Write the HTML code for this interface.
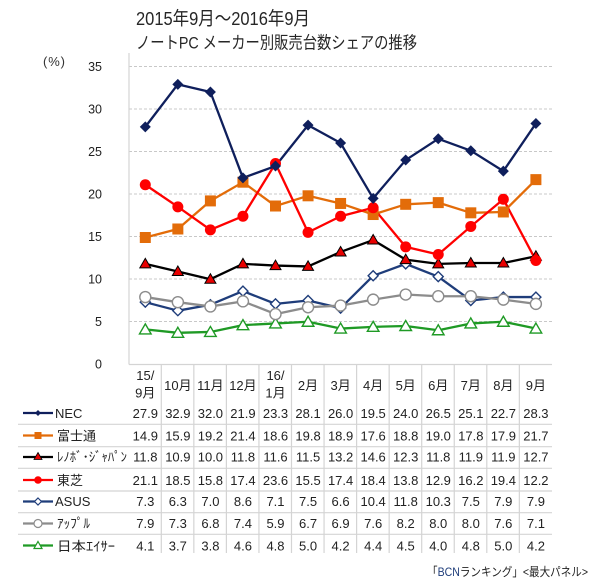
<!DOCTYPE html>
<html><head><meta charset="utf-8"><style>
html,body{margin:0;padding:0;background:#fff;}
svg{display:block;}
text{font-family:"Liberation Sans","Noto Sans CJK JP",sans-serif;}
</style></head><body>
<svg width="600" height="582" viewBox="0 0 600 582" xmlns="http://www.w3.org/2000/svg">
<defs>
<polygon id="dia" points="0,-5.5 5.5,0 0,5.5 -5.5,0" fill="#0f1f5c"/>
<rect id="sq" x="-5.5" y="-5.5" width="11" height="11" fill="#e36c09"/>
<polygon id="tri" points="0,-5.5 5.5,4 -5.5,4" fill="#e80000" stroke="#000" stroke-width="1"/>
<circle id="cr" r="5.5" fill="#ff0000"/>
<polygon id="diaw" points="0,-5 5,0 0,5 -5,0" fill="#fff" stroke="#1f3d7a" stroke-width="1.4"/>
<circle id="cw" r="5.5" fill="#fff" stroke="#8c8c8c" stroke-width="1.4"/>
<polygon id="triw" points="0,-5.5 5.8,4.5 -5.8,4.5" fill="#fff" stroke="#1f9a25" stroke-width="1.4"/>
</defs>

<text x="136" y="25" font-size="18.5" fill="#262626" textLength="174" lengthAdjust="spacingAndGlyphs">2015年9月～2016年9月</text>
<text x="136" y="48.5" font-size="17" fill="#262626" textLength="281" lengthAdjust="spacingAndGlyphs">ノートPC メーカー別販売台数シェアの推移</text>
<text x="43" y="66" font-size="13" fill="#333" textLength="22" lengthAdjust="spacing">(%)</text>

<g stroke="#c8c8c8" stroke-width="1" stroke-dasharray="3,2">
<line x1="129" y1="66.5" x2="552" y2="66.5"/>
<line x1="129" y1="109" x2="552" y2="109"/>
<line x1="129" y1="151.5" x2="552" y2="151.5"/>
<line x1="129" y1="194" x2="552" y2="194"/>
<line x1="129" y1="236.5" x2="552" y2="236.5"/>
<line x1="129" y1="279" x2="552" y2="279"/>
<line x1="129" y1="321.5" x2="552" y2="321.5"/>
</g>
<g stroke="#d4d4d4" stroke-width="1.2">
<line x1="129" y1="53" x2="129" y2="364.5"/>
<line x1="129" y1="364.5" x2="552" y2="364.5"/>
</g>
<g font-size="12.5" fill="#222" text-anchor="end">
<text x="102" y="71">35</text>
<text x="102" y="113.5">30</text>
<text x="102" y="156">25</text>
<text x="102" y="198.5">20</text>
<text x="102" y="241">15</text>
<text x="102" y="283.5">10</text>
<text x="102" y="326">5</text>
<text x="102" y="368.5">0</text>
</g>

<g stroke="#d4d4d4" stroke-width="1.2">
<line x1="161.3" y1="364" x2="161.3" y2="553"/>
<line x1="193.85" y1="364" x2="193.85" y2="553"/>
<line x1="226.4" y1="364" x2="226.4" y2="553"/>
<line x1="258.95" y1="364" x2="258.95" y2="553"/>
<line x1="291.5" y1="364" x2="291.5" y2="553"/>
<line x1="324.05" y1="364" x2="324.05" y2="553"/>
<line x1="356.6" y1="364" x2="356.6" y2="553"/>
<line x1="389.15" y1="364" x2="389.15" y2="553"/>
<line x1="421.7" y1="364" x2="421.7" y2="553"/>
<line x1="454.25" y1="364" x2="454.25" y2="553"/>
<line x1="486.8" y1="364" x2="486.8" y2="553"/>
<line x1="519.35" y1="364" x2="519.35" y2="553"/>
<line x1="18" y1="424.3" x2="552" y2="424.3"/>
<line x1="18" y1="446.7" x2="552" y2="446.7"/>
<line x1="18" y1="468.3" x2="552" y2="468.3"/>
<line x1="18" y1="491" x2="552" y2="491"/>
<line x1="18" y1="512.7" x2="552" y2="512.7"/>
<line x1="18" y1="534.3" x2="552" y2="534.3"/>
</g>

<g fill="none" stroke-width="2.3" stroke-linejoin="round">
<polyline stroke="#1f9a25" points="145.3,329.41 177.85,332.81 210.4,331.96 242.95,325.15 275.5,323.45 308.05,321.75 340.6,328.56 373.15,326.86 405.7,326 438.25,330.26 470.8,323.45 503.35,321.75 535.9,328.56"/>
<polyline stroke="#1f3d7a" points="145.3,302.18 177.85,310.69 210.4,304.73 242.95,291.11 275.5,303.88 308.05,300.47 340.6,308.13 373.15,275.8 405.7,263.88 438.25,276.65 470.8,300.47 503.35,297.07 535.9,297.07"/>
<polyline stroke="#8c8c8c" points="145.3,297.07 177.85,302.18 210.4,306.43 242.95,301.33 275.5,314.09 308.05,307.28 340.6,305.58 373.15,299.62 405.7,294.52 438.25,296.22 470.8,296.22 503.35,299.62 535.9,303.88"/>
<polyline stroke="#000" points="145.3,263.88 177.85,271.54 210.4,279.2 242.95,263.88 275.5,265.58 308.05,266.43 340.6,251.97 373.15,240.05 405.7,259.63 438.25,263.88 470.8,263.03 503.35,263.03 535.9,256.22"/>
<polyline stroke="#e36c09" points="145.3,237.5 177.85,228.99 210.4,200.91 242.95,182.19 275.5,206.01 308.05,195.8 340.6,203.46 373.15,214.52 405.7,204.31 438.25,202.61 470.8,212.82 503.35,211.97 535.9,179.63"/>
<polyline stroke="#ff0000" points="145.3,184.74 177.85,206.86 210.4,229.84 242.95,216.23 275.5,163.46 308.05,232.39 340.6,216.23 373.15,207.72 405.7,246.86 438.25,254.52 470.8,226.44 503.35,199.21 535.9,260.48"/>
<polyline stroke="#0f1f5c" points="145.3,126.87 177.85,84.32 210.4,91.98 242.95,177.93 275.5,166.02 308.05,125.17 340.6,143.04 373.15,198.35 405.7,160.06 438.25,138.78 470.8,150.7 503.35,171.12 535.9,123.47"/>
</g>

<g>
<use href="#triw" x="145.3" y="329.41"/><use href="#triw" x="177.85" y="332.81"/><use href="#triw" x="210.4" y="331.96"/><use href="#triw" x="242.95" y="325.15"/><use href="#triw" x="275.5" y="323.45"/><use href="#triw" x="308.05" y="321.75"/><use href="#triw" x="340.6" y="328.56"/><use href="#triw" x="373.15" y="326.86"/><use href="#triw" x="405.7" y="326"/><use href="#triw" x="438.25" y="330.26"/><use href="#triw" x="470.8" y="323.45"/><use href="#triw" x="503.35" y="321.75"/><use href="#triw" x="535.9" y="328.56"/>
<use href="#diaw" x="145.3" y="302.18"/><use href="#diaw" x="177.85" y="310.69"/><use href="#diaw" x="210.4" y="304.73"/><use href="#diaw" x="242.95" y="291.11"/><use href="#diaw" x="275.5" y="303.88"/><use href="#diaw" x="308.05" y="300.47"/><use href="#diaw" x="340.6" y="308.13"/><use href="#diaw" x="373.15" y="275.8"/><use href="#diaw" x="405.7" y="263.88"/><use href="#diaw" x="438.25" y="276.65"/><use href="#diaw" x="470.8" y="300.47"/><use href="#diaw" x="503.35" y="297.07"/><use href="#diaw" x="535.9" y="297.07"/>
<use href="#cw" x="145.3" y="297.07"/><use href="#cw" x="177.85" y="302.18"/><use href="#cw" x="210.4" y="306.43"/><use href="#cw" x="242.95" y="301.33"/><use href="#cw" x="275.5" y="314.09"/><use href="#cw" x="308.05" y="307.28"/><use href="#cw" x="340.6" y="305.58"/><use href="#cw" x="373.15" y="299.62"/><use href="#cw" x="405.7" y="294.52"/><use href="#cw" x="438.25" y="296.22"/><use href="#cw" x="470.8" y="296.22"/><use href="#cw" x="503.35" y="299.62"/><use href="#cw" x="535.9" y="303.88"/>
<use href="#tri" x="145.3" y="263.88"/><use href="#tri" x="177.85" y="271.54"/><use href="#tri" x="210.4" y="279.2"/><use href="#tri" x="242.95" y="263.88"/><use href="#tri" x="275.5" y="265.58"/><use href="#tri" x="308.05" y="266.43"/><use href="#tri" x="340.6" y="251.97"/><use href="#tri" x="373.15" y="240.05"/><use href="#tri" x="405.7" y="259.63"/><use href="#tri" x="438.25" y="263.88"/><use href="#tri" x="470.8" y="263.03"/><use href="#tri" x="503.35" y="263.03"/><use href="#tri" x="535.9" y="256.22"/>
<use href="#sq" x="145.3" y="237.5"/><use href="#sq" x="177.85" y="228.99"/><use href="#sq" x="210.4" y="200.91"/><use href="#sq" x="242.95" y="182.19"/><use href="#sq" x="275.5" y="206.01"/><use href="#sq" x="308.05" y="195.8"/><use href="#sq" x="340.6" y="203.46"/><use href="#sq" x="373.15" y="214.52"/><use href="#sq" x="405.7" y="204.31"/><use href="#sq" x="438.25" y="202.61"/><use href="#sq" x="470.8" y="212.82"/><use href="#sq" x="503.35" y="211.97"/><use href="#sq" x="535.9" y="179.63"/>
<use href="#cr" x="145.3" y="184.74"/><use href="#cr" x="177.85" y="206.86"/><use href="#cr" x="210.4" y="229.84"/><use href="#cr" x="242.95" y="216.23"/><use href="#cr" x="275.5" y="163.46"/><use href="#cr" x="308.05" y="232.39"/><use href="#cr" x="340.6" y="216.23"/><use href="#cr" x="373.15" y="207.72"/><use href="#cr" x="405.7" y="246.86"/><use href="#cr" x="438.25" y="254.52"/><use href="#cr" x="470.8" y="226.44"/><use href="#cr" x="503.35" y="199.21"/><use href="#cr" x="535.9" y="260.48"/>
<use href="#dia" x="145.3" y="126.87"/><use href="#dia" x="177.85" y="84.32"/><use href="#dia" x="210.4" y="91.98"/><use href="#dia" x="242.95" y="177.93"/><use href="#dia" x="275.5" y="166.02"/><use href="#dia" x="308.05" y="125.17"/><use href="#dia" x="340.6" y="143.04"/><use href="#dia" x="373.15" y="198.35"/><use href="#dia" x="405.7" y="160.06"/><use href="#dia" x="438.25" y="138.78"/><use href="#dia" x="470.8" y="150.7"/><use href="#dia" x="503.35" y="171.12"/><use href="#dia" x="535.9" y="123.47"/>
</g>

<g font-size="13" fill="#222" text-anchor="middle">
<text x="145.3" y="380">15/</text>
<text x="145.3" y="397.5">9月</text>
<text x="177.85" y="390">10月</text>
<text x="210.4" y="390">11月</text>
<text x="242.95" y="390">12月</text>
<text x="275.5" y="380">16/</text>
<text x="275.5" y="397.5">1月</text>
<text x="308.05" y="390">2月</text>
<text x="340.6" y="390">3月</text>
<text x="373.15" y="390">4月</text>
<text x="405.7" y="390">5月</text>
<text x="438.25" y="390">6月</text>
<text x="470.8" y="390">7月</text>
<text x="503.35" y="390">8月</text>
<text x="535.9" y="390">9月</text>
</g>

<g stroke-width="2.3">
<line x1="23" y1="413" x2="53" y2="413" stroke="#0f1f5c"/>
<line x1="23" y1="435.5" x2="53" y2="435.5" stroke="#e36c09"/>
<line x1="23" y1="457" x2="53" y2="457" stroke="#000"/>
<line x1="23" y1="480" x2="53" y2="480" stroke="#ff0000"/>
<line x1="23" y1="501.5" x2="53" y2="501.5" stroke="#1f3d7a"/>
<line x1="23" y1="523.5" x2="53" y2="523.5" stroke="#8c8c8c"/>
<line x1="23" y1="545.5" x2="53" y2="545.5" stroke="#1f9a25"/>
</g>
<polygon points="38,410 41,413 38,416 35,413" fill="#0f1f5c"/>
<rect x="34.5" y="432" width="7" height="7" fill="#e36c09"/>
<polygon points="38,452.5 42,459.5 34,459.5" fill="#e80000" stroke="#000" stroke-width="0.8"/>
<circle cx="38" cy="480" r="3.8" fill="#ff0000"/>
<polygon points="38,498 41.5,501.5 38,505 34.5,501.5" fill="#fff" stroke="#1f3d7a" stroke-width="1.2"/>
<circle cx="38" cy="523.5" r="4" fill="#fff" stroke="#8c8c8c" stroke-width="1.2"/>
<polygon points="38,541.5 42,548.5 34,548.5" fill="#fff" stroke="#1f9a25" stroke-width="1.2"/>

<g font-size="13" fill="#222">
<text x="55" y="418">NEC</text>
<text x="57" y="440.5">富士通</text>
<text x="57" y="461.5" textLength="70" lengthAdjust="spacingAndGlyphs">ﾚﾉﾎﾞ･ｼﾞｬﾊﾟﾝ</text>
<text x="57" y="485">東芝</text>
<text x="55" y="506">ASUS</text>
<text x="57" y="528" textLength="33" lengthAdjust="spacingAndGlyphs">ｱｯﾌﾟﾙ</text>
<text x="57" y="551" textLength="58" lengthAdjust="spacingAndGlyphs">日本ｴｲｻｰ</text>
</g>

<g font-size="13" fill="#222" text-anchor="middle">
<g transform="translate(0,418)">
<text x="145.3">27.9</text><text x="177.85">32.9</text><text x="210.4">32.0</text><text x="242.95">21.9</text><text x="275.5">23.3</text><text x="308.05">28.1</text><text x="340.6">26.0</text><text x="373.15">19.5</text><text x="405.7">24.0</text><text x="438.25">26.5</text><text x="470.8">25.1</text><text x="503.35">22.7</text><text x="535.9">28.3</text>
</g>
<g transform="translate(0,440.5)">
<text x="145.3">14.9</text><text x="177.85">15.9</text><text x="210.4">19.2</text><text x="242.95">21.4</text><text x="275.5">18.6</text><text x="308.05">19.8</text><text x="340.6">18.9</text><text x="373.15">17.6</text><text x="405.7">18.8</text><text x="438.25">19.0</text><text x="470.8">17.8</text><text x="503.35">17.9</text><text x="535.9">21.7</text>
</g>
<g transform="translate(0,461.7)">
<text x="145.3">11.8</text><text x="177.85">10.9</text><text x="210.4">10.0</text><text x="242.95">11.8</text><text x="275.5">11.6</text><text x="308.05">11.5</text><text x="340.6">13.2</text><text x="373.15">14.6</text><text x="405.7">12.3</text><text x="438.25">11.8</text><text x="470.8">11.9</text><text x="503.35">11.9</text><text x="535.9">12.7</text>
</g>
<g transform="translate(0,485)">
<text x="145.3">21.1</text><text x="177.85">18.5</text><text x="210.4">15.8</text><text x="242.95">17.4</text><text x="275.5">23.6</text><text x="308.05">15.5</text><text x="340.6">17.4</text><text x="373.15">18.4</text><text x="405.7">13.8</text><text x="438.25">12.9</text><text x="470.8">16.2</text><text x="503.35">19.4</text><text x="535.9">12.2</text>
</g>
<g transform="translate(0,506)">
<text x="145.3">7.3</text><text x="177.85">6.3</text><text x="210.4">7.0</text><text x="242.95">8.6</text><text x="275.5">7.1</text><text x="308.05">7.5</text><text x="340.6">6.6</text><text x="373.15">10.4</text><text x="405.7">11.8</text><text x="438.25">10.3</text><text x="470.8">7.5</text><text x="503.35">7.9</text><text x="535.9">7.9</text>
</g>
<g transform="translate(0,528)">
<text x="145.3">7.9</text><text x="177.85">7.3</text><text x="210.4">6.8</text><text x="242.95">7.4</text><text x="275.5">5.9</text><text x="308.05">6.7</text><text x="340.6">6.9</text><text x="373.15">7.6</text><text x="405.7">8.2</text><text x="438.25">8.0</text><text x="470.8">8.0</text><text x="503.35">7.6</text><text x="535.9">7.1</text>
</g>
<g transform="translate(0,550.7)">
<text x="145.3">4.1</text><text x="177.85">3.7</text><text x="210.4">3.8</text><text x="242.95">4.6</text><text x="275.5">4.8</text><text x="308.05">5.0</text><text x="340.6">4.2</text><text x="373.15">4.4</text><text x="405.7">4.5</text><text x="438.25">4.0</text><text x="470.8">4.8</text><text x="503.35">5.0</text><text x="535.9">4.2</text>
</g>
</g>

<text x="427" y="576" font-size="12" fill="#222" textLength="161" lengthAdjust="spacingAndGlyphs">「<tspan fill="#1f3d7a">BCN</tspan>ランキング」&lt;最大パネル&gt;</text>
</svg>
</body></html>
